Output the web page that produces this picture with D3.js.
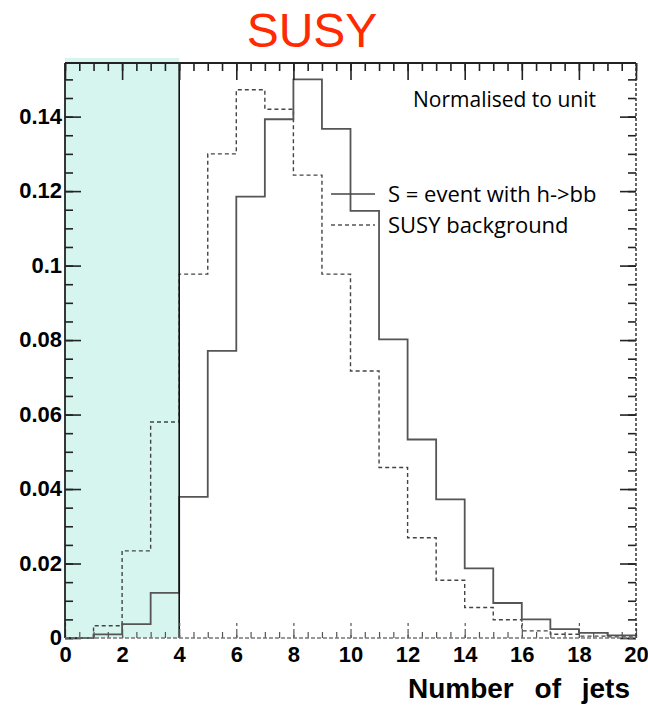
<!DOCTYPE html>
<html>
<head>
<meta charset="utf-8">
<script src="https://cdn.jsdelivr.net/npm/d3@7"></script>
<style>
  body { margin: 0; background: #fff; }
  svg { display: block; }
</style>
</head>
<body>
<script>
// bin lower edges (number of jets) and normalised contents
var binLow = [0, 1, 2, 3, 4, 5, 6, 7, 8, 9, 10, 11, 12, 13, 14, 15, 16, 17, 18, 19];
var signal = [0, 0.001, 0.0037, 0.0121, 0.0379, 0.0771, 0.1185, 0.1393, 0.150, 0.1367,
  0.1147, 0.0802, 0.0533, 0.0372, 0.0187, 0.0094, 0.0050, 0.0024, 0.0014, 0.0007];
var background = [0, 0.0033, 0.0234, 0.058, 0.0977, 0.130, 0.1472, 0.142, 0.1243, 0.0977,
  0.0717, 0.0458, 0.0269, 0.0155, 0.0082, 0.0049, 0.0019, 0.001, 0.0005, 0.0003];
var xTicks = [0, 2, 4, 6, 8, 10, 12, 14, 16, 18, 20];
var yTicks = [0, 0.02, 0.04, 0.06, 0.08, 0.1, 0.12, 0.14];
var legendLabels = ["S = event with h->bb", "SUSY background"];
var cutValue = 4;

var W = 648, H = 705;
var margin = { top: 63, right: 12, bottom: 67, left: 65 };
var width = W - margin.left - margin.right,
  height = H - margin.top - margin.bottom;

var x = d3.scaleLinear().domain([0, 20]).range([0, width]);
var y = d3.scaleLinear().domain([0, 0.1544]).range([height, 0]);

var root = d3.select("body").append("svg")
  .attr("width", W).attr("height", H);

// title
root.append("text")
  .attr("x", 312).attr("y", 47)
  .attr("text-anchor", "middle")
  .style("font-family", "'Liberation Sans', Arial, sans-serif")
  .style("font-size", "48px")
  .style("fill", "#ff2a00")
  .text("SUSY");

var svg = root.append("g")
  .attr("transform", "translate(" + margin.left + "," + margin.top + ")");

// shaded region below the cut
svg.append("rect")
  .attr("x", x(0)).attr("y", -5)
  .attr("width", x(cutValue) - x(0))
  .attr("height", height + 5)
  .style("fill", "#d6f5ef");

// histograms
function stepPoints(vals) {
  var pts = [[binLow[0], 0]];
  vals.forEach(function (v, i) {
    pts.push([binLow[i], v]);
    pts.push([binLow[i] + 1, v]);
  });
  pts.push([binLow[binLow.length - 1] + 1, 0]);
  return pts;
}
var line = d3.line()
  .x(function (d) { return x(d[0]); })
  .y(function (d) { return y(d[1]); });

svg.append("path")
  .attr("d", line(stepPoints(background)))
  .style("fill", "none")
  .style("stroke", "#444")
  .style("stroke-width", 1.4)
  .style("stroke-dasharray", "4,3");

svg.append("path")
  .attr("d", line(stepPoints(signal)))
  .style("fill", "none")
  .style("stroke", "#555")
  .style("stroke-width", 1.8);

// cut line
svg.append("line")
  .attr("x1", x(cutValue)).attr("x2", x(cutValue))
  .attr("y1", 0).attr("y2", height)
  .style("stroke", "#111").style("stroke-width", 1.6);

// axes
var labelFont = "'Liberation Sans', Arial, sans-serif";
var minorX = d3.range(0, 20.01, 0.5);
var minorY = d3.range(0, 0.1541, 0.005);

// left
var yAxis = svg.append("g")
  .call(d3.axisLeft(y).tickValues(yTicks).tickSize(-16).tickPadding(3)
    .tickFormat(d3.format("~g")));
svg.append("g")
  .call(d3.axisLeft(y).tickValues(minorY).tickSize(-8).tickFormat(""));
// right
svg.append("g").attr("transform", "translate(" + width + ",0)")
  .call(d3.axisRight(y).tickValues(yTicks).tickSize(-16).tickFormat(""));
svg.append("g").attr("transform", "translate(" + width + ",0)")
  .call(d3.axisRight(y).tickValues(minorY).tickSize(-8).tickFormat(""));
// top
svg.append("g")
  .call(d3.axisTop(x).tickValues(xTicks).tickSize(-17).tickFormat(""));
svg.append("g")
  .call(d3.axisTop(x).tickValues(minorX).tickSize(-8).tickFormat(""));
// bottom
var xAxis = svg.append("g").attr("transform", "translate(0," + height + ")")
  .call(d3.axisBottom(x).tickValues(xTicks).tickSize(-16).tickPadding(8));
svg.append("g").attr("class", "minorBottom").attr("transform", "translate(0," + height + ")")
  .call(d3.axisBottom(x).tickValues(minorX).tickSize(-6).tickFormat(""));

svg.selectAll(".domain").remove();
svg.selectAll(".tick line").style("stroke", "#222").style("stroke-width", 1.6);
xAxis.selectAll(".tick line").style("stroke", "#555").style("stroke-dasharray", "3,3").style("stroke-width", 1.2);
svg.select(".minorBottom").selectAll(".tick line").style("stroke", "#555").style("stroke-width", 1.2);

svg.selectAll(".tick text")
  .style("font-family", labelFont)
  .style("font-weight", "bold")
  .style("font-size", "22px")
  .style("fill", "#000");
yAxis.selectAll(".tick text").attr("dy", "0.3em");

// frame
svg.append("line").attr("x1", 0).attr("x2", width).attr("y1", 0).attr("y2", 0)
  .style("stroke", "#222").style("stroke-width", 1.8);
svg.append("line").attr("x1", 0).attr("x2", 0).attr("y1", 0).attr("y2", height)
  .style("stroke", "#222").style("stroke-width", 1.8);
svg.append("line").attr("x1", width).attr("x2", width).attr("y1", 0).attr("y2", height)
  .style("stroke", "#333").style("stroke-width", 1.5).style("stroke-dasharray", "3,2");
svg.append("line").attr("x1", 0).attr("x2", width).attr("y1", height).attr("y2", height)
  .style("stroke", "#777").style("stroke-width", 1.6).style("stroke-dasharray", "4,2");

// axis title
svg.append("text")
  .attr("x", width - 6).attr("y", height + 60)
  .attr("text-anchor", "end")
  .style("font-family", labelFont)
  .style("font-weight", "bold")
  .style("font-size", "28px")
  .style("word-spacing", "13px")
  .text("Number of jets");

// legend
var legendFont = "'Open Sans', 'Liberation Sans', sans-serif";
svg.append("text")
  .attr("x", 348).attr("y", 44)
  .style("font-family", legendFont)
  .style("font-size", "21px")
  .text("Normalised to unit");

var legend = svg.selectAll(".legend")
  .data(legendLabels)
  .enter().append("g")
  .attr("transform", function (d, i) { return "translate(266," + (131 + i * 31) + ")"; });
legend.append("line")
  .attr("x1", 0).attr("x2", 44).attr("y1", 0).attr("y2", 0)
  .style("stroke", function (d, i) { return i === 0 ? "#444" : "#555"; })
  .style("stroke-width", 1.4)
  .style("stroke-dasharray", function (d, i) { return i === 0 ? null : "4,3"; });
legend.append("text")
  .attr("x", 57).attr("y", 0).attr("dy", "0.35em")
  .style("font-family", legendFont)
  .style("font-size", "22px")
  .text(function (d) { return d; });
</script>
</body>
</html>
